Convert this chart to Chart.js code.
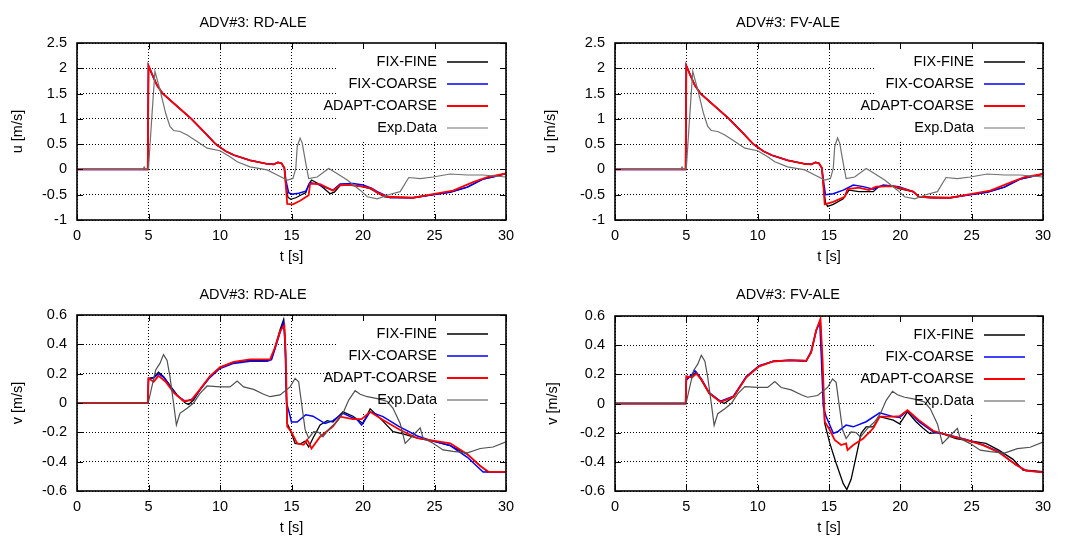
<!DOCTYPE html>
<html>
<head>
<meta charset="utf-8">
<script src="https://cdn.jsdelivr.net/npm/chart.js@4.4.1/dist/chart.umd.min.js"></script>
<style>
  body { margin: 0; background: #fff; }
  #wrap { position: relative; width: 1066px; height: 540px; }
  canvas { position: absolute; }
</style>
</head>
<body>
<div id="wrap">
  <canvas id="c0" width="533" height="270" style="left:0;top:0"></canvas>
  <canvas id="c1" width="533" height="270" style="left:533px;top:0"></canvas>
  <canvas id="c2" width="533" height="270" style="left:0;top:270px"></canvas>
  <canvas id="c3" width="533" height="270" style="left:533px;top:270px"></canvas>
</div>
<script>
// ---- data ----
const xTicks = [0, 5, 10, 15, 20, 25, 30];

// u: common part of the three simulations before the drop at ~14.5 s
const uEarlyT = [0, 4.95, 5.0, 5.3, 5.6, 6.0, 7.0, 8.0, 9.0, 9.7, 10.4, 11.0, 12.1, 13.3, 13.75, 14.05, 14.3, 14.5];
const uEarly  = [0, 0, 2.05, 1.85, 1.66, 1.5, 1.25, 1.0, 0.71, 0.5, 0.36, 0.28, 0.18, 0.11, 0.1, 0.14, 0.12, 0.03];

// u, RD-ALE tails
const uFineRdT = [14.6, 14.75, 14.95, 15.3, 15.7, 16.0, 16.2, 16.4, 16.8, 17.3, 17.7, 18.0, 18.4, 19.0, 19.8, 20.5, 21.0, 21.5, 22.2, 23.5, 24.9, 26.1, 27.3, 28.4, 29.2, 30];
const uFineRd  = [-0.3, -0.55, -0.59, -0.56, -0.5, -0.46, -0.3, -0.21, -0.27, -0.38, -0.48, -0.45, -0.32, -0.31, -0.33, -0.38, -0.46, -0.54, -0.55, -0.56, -0.5, -0.45, -0.35, -0.19, -0.14, -0.08];
const uCoarseRdT = [14.6, 14.8, 15.0, 15.5, 16.0, 16.3, 16.8, 17.3, 17.9, 18.4, 19.3, 20.0, 20.6, 21.0, 21.9, 23.5, 24.9, 26.1, 27.3, 28.4, 29.2, 30];
const uCoarseRd  = [-0.2, -0.46, -0.49, -0.47, -0.43, -0.26, -0.29, -0.35, -0.41, -0.29, -0.28, -0.31, -0.37, -0.44, -0.56, -0.56, -0.5, -0.45, -0.35, -0.19, -0.14, -0.08];
const uAdaptRdT = [14.6, 14.7, 15.1, 15.6, 16.2, 16.3, 17.0, 17.9, 18.4, 19.2, 20.0, 20.6, 21.0, 21.7, 23.5, 24.9, 26.3, 27.7, 28.7, 30];
const uAdaptRd  = [-0.3, -0.68, -0.69, -0.62, -0.51, -0.28, -0.29, -0.42, -0.31, -0.31, -0.34, -0.38, -0.46, -0.54, -0.56, -0.49, -0.42, -0.25, -0.15, -0.08];

// u, FV-ALE tails
const uFineFvT = [14.6, 14.75, 14.9, 15.3, 16.0, 16.4, 17.1, 18.1, 18.5, 19.5, 19.9, 20.9, 21.3, 22.2, 23.5, 24.9, 26.1, 27.3, 28.4, 29.2, 30];
const uFineFv  = [-0.3, -0.65, -0.73, -0.69, -0.58, -0.41, -0.44, -0.44, -0.34, -0.33, -0.38, -0.44, -0.54, -0.55, -0.56, -0.5, -0.45, -0.35, -0.19, -0.14, -0.09];
const uCoarseFvT = [14.6, 14.75, 15.3, 16.0, 16.7, 17.4, 18.1, 18.8, 19.9, 20.9, 21.3, 22.2, 23.5, 24.9, 26.1, 27.3, 28.4, 29.2, 30];
const uCoarseFv  = [-0.2, -0.5, -0.48, -0.41, -0.31, -0.34, -0.39, -0.31, -0.34, -0.44, -0.54, -0.56, -0.56, -0.5, -0.45, -0.35, -0.19, -0.14, -0.09];
const uAdaptFvT = [14.6, 14.7, 15.3, 16.1, 16.3, 17.1, 17.8, 18.3, 19.5, 20.9, 21.3, 22.2, 23.5, 24.9, 26.3, 27.7, 28.7, 30];
const uAdaptFv  = [-0.3, -0.69, -0.64, -0.54, -0.39, -0.36, -0.41, -0.34, -0.33, -0.44, -0.54, -0.56, -0.56, -0.49, -0.42, -0.26, -0.15, -0.09];

// u, experiment
const uExpT = [0, 4.6, 4.7, 4.8, 5.0, 5.2, 5.45, 5.8, 6.2, 6.5, 6.75, 7.2, 7.7, 8.4, 9.1, 10.0, 10.7, 11.2, 12.1, 13.3, 14.0, 14.7, 15.1, 15.3, 15.4, 15.6, 15.75, 16.0, 16.2, 16.8, 17.6, 17.9, 18.9, 19.8, 20.3, 21.0, 21.9, 22.6, 23.2, 24.0, 24.9, 26.1, 27.3, 28.4, 30];
const uExp  = [0, 0, 0.05, 0, 0.02, 0.9, 1.94, 1.58, 1.11, 0.85, 0.77, 0.75, 0.68, 0.55, 0.42, 0.37, 0.25, 0.15, 0.05, -0.01, -0.11, -0.21, -0.18, 0.02, 0.45, 0.62, 0.52, 0.12, -0.18, -0.15, 0.02, -0.03, -0.21, -0.41, -0.54, -0.58, -0.49, -0.44, -0.16, -0.18, -0.15, -0.09, -0.11, -0.11, -0.15];

// v, RD-ALE
const vFineRdT = [0, 4.95, 5.0, 5.36, 5.7, 6.06, 6.5, 7.0, 7.57, 7.8, 8.15, 8.6, 9.3, 10.0, 10.95, 12.1, 13.3, 13.6, 13.85, 14.2, 14.45, 14.55, 14.7, 14.9, 15.25, 15.6, 15.95, 16.2, 16.5, 17.0, 17.5, 17.9, 18.6, 19.3, 20.0, 20.5, 21.2, 22.1, 22.8, 23.8, 24.9, 26.1, 27.3, 28.0, 28.7, 30];
const vFineRd  = [0, 0, 0.168, 0.175, 0.21, 0.18, 0.12, 0.055, 0.0, -0.01, 0.02, 0.09, 0.18, 0.243, 0.277, 0.293, 0.29, 0.30, 0.38, 0.50, 0.57, 0.45, -0.14, -0.18, -0.275, -0.28, -0.26, -0.30, -0.24, -0.15, -0.12, -0.13, -0.06, -0.09, -0.14, -0.04, -0.105, -0.195, -0.21, -0.24, -0.26, -0.29, -0.35, -0.41, -0.47, -0.47];
const vCoarseRdT = [0, 4.95, 5.0, 5.36, 5.7, 6.06, 6.5, 7.0, 7.6, 8.15, 8.6, 9.3, 10.0, 10.95, 12.1, 13.3, 13.6, 13.85, 14.2, 14.45, 14.55, 14.65, 14.8, 15.0, 15.4, 16.0, 16.5, 17.35, 17.9, 18.6, 19.6, 19.9, 20.5, 21.4, 22.5, 23.8, 24.9, 26.1, 27.3, 28.4, 30];
const vCoarseRd  = [0, 0, 0.165, 0.17, 0.2, 0.175, 0.115, 0.05, 0.01, 0.03, 0.09, 0.175, 0.235, 0.27, 0.285, 0.285, 0.295, 0.37, 0.48, 0.55, 0.4, 0.0, -0.05, -0.13, -0.13, -0.08, -0.09, -0.14, -0.12, -0.07, -0.115, -0.15, -0.06, -0.093, -0.16, -0.225, -0.26, -0.29, -0.37, -0.47, -0.47];
const vAdaptRdT = [0, 4.95, 5.0, 5.36, 5.7, 6.2, 6.76, 7.45, 8.0, 8.6, 9.3, 10.0, 10.95, 12.1, 13.5, 13.85, 14.2, 14.5, 14.6, 14.7, 15.0, 15.4, 15.85, 16.1, 16.4, 17.0, 17.9, 18.4, 19.3, 19.9, 20.5, 21.4, 22.6, 23.8, 24.9, 26.1, 27.3, 28.2, 28.8, 30];
const vAdaptRd  = [0, 0, 0.168, 0.145, 0.185, 0.145, 0.07, 0.014, 0.02, 0.093, 0.184, 0.243, 0.28, 0.298, 0.298, 0.38, 0.49, 0.53, 0.33, -0.16, -0.2, -0.275, -0.285, -0.25, -0.31, -0.23, -0.16, -0.093, -0.11, -0.11, -0.06, -0.116, -0.184, -0.24, -0.257, -0.275, -0.35, -0.43, -0.47, -0.47];

// v, FV-ALE
const vFineFvT = [0, 4.95, 5.0, 5.4, 5.7, 6.05, 6.6, 7.3, 7.65, 8.3, 9.2, 10.1, 11.1, 12.25, 13.4, 13.75, 14.1, 14.4, 14.5, 14.7, 15.05, 15.5, 16.0, 16.25, 16.55, 16.9, 17.25, 17.6, 18.1, 18.55, 19.5, 19.95, 20.5, 21.1, 21.6, 22.05, 22.75, 23.9, 25.1, 26.0, 26.9, 27.9, 28.6, 30];
const vFineFv  = [0, 0, 0.18, 0.19, 0.215, 0.16, 0.07, 0.02, 0.0, 0.045, 0.18, 0.255, 0.29, 0.297, 0.293, 0.35, 0.5, 0.565, 0.3, -0.137, -0.27, -0.41, -0.55, -0.59, -0.52, -0.365, -0.205, -0.16, -0.16, -0.09, -0.114, -0.14, -0.057, -0.125, -0.17, -0.205, -0.2, -0.24, -0.26, -0.274, -0.32, -0.383, -0.456, -0.468];
const vCoarseFvT = [0, 4.95, 5.0, 5.4, 5.6, 6.05, 6.6, 7.4, 8.3, 9.2, 10.1, 11.1, 12.25, 13.4, 13.75, 14.1, 14.35, 14.45, 14.6, 14.8, 15.3, 15.6, 16.2, 16.7, 17.6, 18.55, 19.5, 19.95, 20.5, 21.3, 22.3, 23.45, 24.6, 25.8, 26.9, 28.1, 28.8, 30];
const vCoarseFv  = [0, 0, 0.16, 0.2, 0.225, 0.17, 0.075, 0.015, 0.05, 0.185, 0.26, 0.29, 0.295, 0.29, 0.36, 0.5, 0.56, 0.35, -0.02, -0.09, -0.205, -0.194, -0.148, -0.16, -0.125, -0.064, -0.09, -0.096, -0.05, -0.125, -0.194, -0.217, -0.246, -0.285, -0.33, -0.42, -0.46, -0.472];
const vAdaptFvT = [0, 4.95, 5.0, 5.4, 5.7, 6.05, 6.6, 7.4, 8.3, 9.2, 10.1, 11.1, 12.25, 13.4, 13.75, 14.1, 14.4, 14.55, 14.7, 15.05, 15.4, 15.85, 16.2, 16.3, 16.7, 17.4, 18.1, 18.55, 19.5, 19.95, 20.5, 21.3, 22.3, 23.45, 24.6, 25.8, 26.9, 28.1, 28.8, 30];
const vAdaptFv  = [0, 0, 0.187, 0.178, 0.205, 0.165, 0.07, 0.01, 0.045, 0.18, 0.255, 0.288, 0.298, 0.293, 0.35, 0.5, 0.58, 0.3, -0.125, -0.18, -0.25, -0.285, -0.274, -0.32, -0.285, -0.24, -0.17, -0.09, -0.09, -0.087, -0.046, -0.114, -0.187, -0.22, -0.25, -0.285, -0.335, -0.42, -0.46, -0.472];

// v, experiment
const vExpT = [0, 4.9, 5.0, 5.5, 5.8, 6.05, 6.3, 6.5, 6.75, 6.95, 7.2, 7.7, 8.15, 8.6, 9.1, 10.0, 10.7, 11.2, 11.65, 12.35, 13.05, 13.5, 14.2, 14.9, 15.25, 15.5, 15.7, 15.95, 16.2, 16.55, 16.9, 17.2, 17.7, 18.2, 18.6, 19.0, 19.45, 19.8, 20.3, 21.0, 21.7, 22.1, 22.6, 22.95, 23.4, 24.0, 24.2, 24.9, 25.6, 26.3, 27.3, 28.2, 29.1, 30];
const vExp  = [0, 0, 0.01, 0.225, 0.27, 0.33, 0.29, 0.18, 0.0, -0.15, -0.07, -0.036, 0.0, 0.066, 0.116, 0.11, 0.11, 0.15, 0.11, 0.093, 0.06, 0.043, 0.055, 0.11, 0.168, 0.145, 0.0, -0.18, -0.24, -0.195, -0.2, -0.23, -0.17, -0.125, -0.07, 0.02, 0.084, 0.06, 0.043, 0.03, 0.01, -0.036, -0.14, -0.275, -0.23, -0.17, -0.24, -0.275, -0.32, -0.33, -0.34, -0.31, -0.3, -0.265];

const labels = ['FIX-FINE', 'FIX-COARSE', 'ADAPT-COARSE', 'Exp.Data'];
const colors = ['#000000', '#0000ff', '#ff0000', '#777777'];
const widths = [1.3, 1.5, 1.8, 1.2];

// ---- helpers ----
const FONT_SIZE = 14.5;
Chart.defaults.font.family = "'Liberation Sans', Arial, sans-serif";
Chart.defaults.font.size = FONT_SIZE;
Chart.defaults.color = '#000';

function zip(t, v) {
  return t.map((x, i) => ({ x: x, y: v[i] }));
}

function fmt(v) {
  return String(+v.toFixed(2));
}

// gnuplot style frame, inward ticks and key
function gnuFrame(p) {
  return {
    id: 'gnuFrame',
    beforeDatasetsDraw(chart) {
      const a = chart.chartArea, ctx = chart.ctx;
      ctx.save();
      ctx.fillStyle = '#fff';
      ctx.fillRect(a.right - 168, a.top, 168, 98);
      ctx.restore();
    },
    afterDatasetsDraw(chart) {
      const a = chart.chartArea, ctx = chart.ctx;
      const sx = chart.scales.x, sy = chart.scales.y;
      ctx.save();
      ctx.strokeStyle = '#000';
      ctx.lineWidth = 1;
      ctx.beginPath();
      sx.ticks.forEach(t => {
        const x = Math.round(sx.getPixelForValue(t.value)) + 0.5;
        ctx.moveTo(x, a.bottom); ctx.lineTo(x, a.bottom - 6);
        ctx.moveTo(x, a.top); ctx.lineTo(x, a.top + 6);
      });
      sy.ticks.forEach(t => {
        const y = Math.round(sy.getPixelForValue(t.value)) + 0.5;
        ctx.moveTo(a.left, y); ctx.lineTo(a.left + 6, y);
        ctx.moveTo(a.right, y); ctx.lineTo(a.right - 6, y);
      });
      ctx.stroke();
      ctx.lineWidth = 1.6;
      ctx.strokeRect(a.left, a.top, a.right - a.left, a.bottom - a.top);

      // key
      ctx.font = FONT_SIZE + "px 'Liberation Sans', Arial, sans-serif";
      ctx.textAlign = 'right';
      ctx.textBaseline = 'middle';
      ctx.fillStyle = '#000';
      chart.data.datasets.forEach((ds, i) => {
        const y = a.top + 19 + i * 22;
        ctx.fillText(ds.label, a.right - 69, y);
        ctx.strokeStyle = ds.borderColor;
        ctx.lineWidth = ds.borderWidth;
        ctx.beginPath();
        ctx.moveTo(a.right - 59, y);
        ctx.lineTo(a.right - 18, y);
        ctx.stroke();
      });
      ctx.restore();
    }
  };
}

function makePanel(id, p) {
  const datasets = p.series.map((s, i) => ({
    label: labels[i],
    data: zip(s[0], s[1]),
    borderColor: i === 3 ? p.expColor : colors[i],
    borderWidth: widths[i],
    pointRadius: 0,
    tension: 0,
    fill: false,
    order: 3 - i
  }));
  const lh = FONT_SIZE * 1.2 / 2;
  new Chart(document.getElementById(id), {
    type: 'line',
    data: { datasets: datasets },
    options: {
      responsive: false,
      animation: false,
      devicePixelRatio: 1,
      layout: { padding: { left: 0, top: 0, right: 533 - p.area.r, bottom: 0 } },
      plugins: {
        legend: { display: false },
        tooltip: { enabled: false },
        title: {
          display: true,
          text: p.title,
          color: '#000',
          font: { size: FONT_SIZE, weight: 'normal' },
          padding: { top: p.titleY - lh + 2, bottom: p.area.t - p.titleY - lh - 2 }
        }
      },
      scales: {
        x: {
          type: 'linear',
          min: 0,
          max: 30,
          afterBuildTicks: s => { s.ticks = xTicks.map(v => ({ value: v })); },
          ticks: { padding: 7, maxRotation: 0, callback: fmt },
          grid: { color: '#000', lineWidth: 1, drawTicks: false },
          border: { display: false, dash: [1, 2] },
          title: { display: true, text: 't [s]', padding: { top: 0, bottom: 270 - p.xTitleY - lh } },
          afterFit: s => { s.height = 270 - p.area.b; }
        },
        y: {
          min: p.yTicks[p.yTicks.length - 1],
          max: p.yTicks[0],
          afterBuildTicks: s => { s.ticks = p.yTicks.map(v => ({ value: v })); },
          ticks: { padding: 10, callback: fmt },
          grid: { color: '#000', lineWidth: 1, drawTicks: false },
          border: { display: false, dash: [1, 2] },
          title: { display: true, text: p.yTitle, padding: { top: p.yTitleX - lh, bottom: 0 } },
          afterFit: s => { s.width = p.area.l; }
        }
      }
    },
    plugins: [gnuFrame(p)]
  });
}

const uTicks = [2.5, 2, 1.5, 1, 0.5, 0, -0.5, -1];
const vTicks = [0.6, 0.4, 0.2, 0, -0.2, -0.4, -0.6];

makePanel('c0', {
  title: 'ADV#3: RD-ALE', yTitle: 'u [m/s]', yTicks: uTicks, expColor: '#707070',
  area: { l: 77, r: 506, t: 43, b: 220 }, titleY: 21, xTitleY: 257, yTitleX: 18,
  series: [
    [uEarlyT.concat(uFineRdT), uEarly.concat(uFineRd)],
    [uEarlyT.concat(uCoarseRdT), uEarly.concat(uCoarseRd)],
    [uEarlyT.concat(uAdaptRdT), uEarly.concat(uAdaptRd)],
    [uExpT, uExp]
  ]
});
makePanel('c1', {
  title: 'ADV#3: FV-ALE', yTitle: 'u [m/s]', yTicks: uTicks, expColor: '#707070',
  area: { l: 82, r: 510, t: 43, b: 220 }, titleY: 21, xTitleY: 257, yTitleX: 18,
  series: [
    [uEarlyT.concat(uFineFvT), uEarly.concat(uFineFv)],
    [uEarlyT.concat(uCoarseFvT), uEarly.concat(uCoarseFv)],
    [uEarlyT.concat(uAdaptFvT), uEarly.concat(uAdaptFv)],
    [uExpT, uExp]
  ]
});
makePanel('c2', {
  title: 'ADV#3: RD-ALE', yTitle: 'v [m/s]', yTicks: vTicks, expColor: '#505050',
  area: { l: 77, r: 506, t: 45, b: 221 }, titleY: 23, xTitleY: 258, yTitleX: 18,
  series: [
    [vFineRdT, vFineRd],
    [vCoarseRdT, vCoarseRd],
    [vAdaptRdT, vAdaptRd],
    [vExpT, vExp]
  ]
});
makePanel('c3', {
  title: 'ADV#3: FV-ALE', yTitle: 'v [m/s]', yTicks: vTicks, expColor: '#505050',
  area: { l: 82, r: 510, t: 46, b: 221 }, titleY: 23, xTitleY: 258, yTitleX: 20,
  series: [
    [vFineFvT, vFineFv],
    [vCoarseFvT, vCoarseFv],
    [vAdaptFvT, vAdaptFv],
    [vExpT, vExp]
  ]
});
</script>
</body>
</html>
